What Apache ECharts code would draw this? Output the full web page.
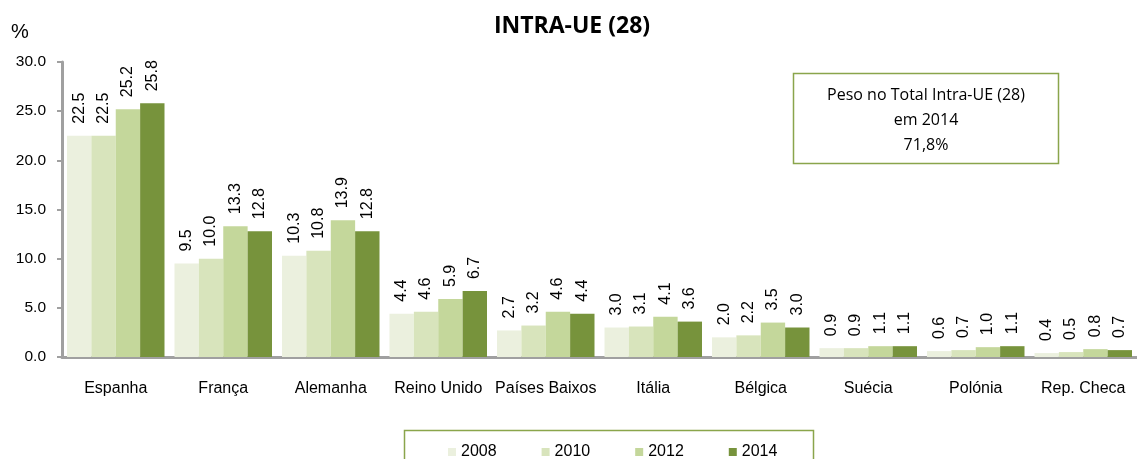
<!DOCTYPE html>
<html>
<head>
<meta charset="utf-8">
<script src="https://cdn.jsdelivr.net/npm/echarts@6/dist/echarts.min.js"></script>
<style>html,body{margin:0;padding:0;background:#fff}#c{width:1137px;height:459px}</style>
</head>
<body>
<div id="c"></div>
<script>
var categories = ['Espanha','França','Alemanha','Reino Unido','Países Baixos','Itália','Bélgica','Suécia','Polónia','Rep. Checa'];
var years = ['2008','2010','2012','2014'];
var v2008 = [22.5, 9.5, 10.3, 4.4, 2.7, 3.0, 2.0, 0.9, 0.6, 0.4];
var v2010 = [22.5, 10.0, 10.8, 4.6, 3.2, 3.1, 2.2, 0.9, 0.7, 0.5];
var v2012 = [25.2, 13.3, 13.9, 5.9, 4.6, 4.1, 3.5, 1.1, 1.0, 0.8];
var v2014 = [25.8, 12.8, 12.8, 6.7, 4.4, 3.6, 3.0, 1.1, 1.1, 0.7];
var colors = ['#EBF0DE','#D8E4BC','#C4D79B','#77933C'];
var yTicks = [0, 5, 10, 15, 20, 25, 30];

var seriesData = [v2008, v2010, v2012, v2014];
var chart = echarts.init(document.getElementById('c'));
var series = seriesData.map(function(d, i){
  return {
    name: years[i], type: 'bar', data: d, barGap: '0%', barCategoryGap: '9.3%',
    itemStyle: {color: colors[i]},
    label: {show: true, position: 'top', rotate: 90, align: 'left', verticalAlign: 'middle', distance: 12,
      fontFamily: 'Liberation Sans', fontSize: 16, color: '#000',
      formatter: function(p){ return p.value.toFixed(1); }}
  };
});
chart.setOption({
  animation: false,
  title: {text: 'INTRA-UE (28)', left: 567, top: 10, textAlign: 'center',
    textStyle: {fontFamily: 'Open Sans', fontWeight: 'bold', fontSize: 23, color: '#000'}},
  grid: {left: 62, right: -6, top: 62, bottom: 102},
  legend: {data: years, left: 443, top: 439, icon: 'rect', itemWidth: 8, itemHeight: 8, itemGap: 45,
    textStyle: {fontFamily: 'Liberation Sans', fontSize: 16, color: '#000'}},
  xAxis: {type: 'category', data: categories,
    axisLine: {lineStyle: {color: '#A0A0A0', width: 3}}, axisTick: {show: false},
    axisLabel: {fontFamily: 'Liberation Sans', fontSize: 16, color: '#000', margin: 24, interval: 0}},
  yAxis: {type: 'value', min: yTicks[0], max: yTicks[yTicks.length-1], interval: 5,
    axisLine: {show: true, lineStyle: {color: '#A0A0A0', width: 3}},
    axisTick: {show: true, length: 5, lineStyle: {color: '#A0A0A0', width: 2}},
    splitLine: {show: false},
    axisLabel: {fontFamily: 'Liberation Sans', fontSize: 15.5, color: '#000', margin: 16,
      formatter: function(v){ return v.toFixed(1); }}},
  graphic: [
    {type: 'text', left: 11, top: 22, style: {text: '%', font: '20px Liberation Sans', fill: '#000'}},
    {type: 'rect', shape: {x: 793.5, y: 73.5, width: 265, height: 90},
      style: {fill: '#fff', stroke: '#8AA54B', lineWidth: 1.5}},
    {type: 'text', x: 926, y: 120, style: {text: 'Peso no Total Intra-UE (28)\nem 2014\n71,8%',
      font: '16px Open Sans', fill: '#000', align: 'center', verticalAlign: 'middle', lineHeight: 25}},
    {type: 'rect', shape: {x: 404.5, y: 430.5, width: 409, height: 40},
      style: {fill: 'none', stroke: '#8AA54B', lineWidth: 1.5}}
  ],
  series: series
});
</script>
</body>
</html>
